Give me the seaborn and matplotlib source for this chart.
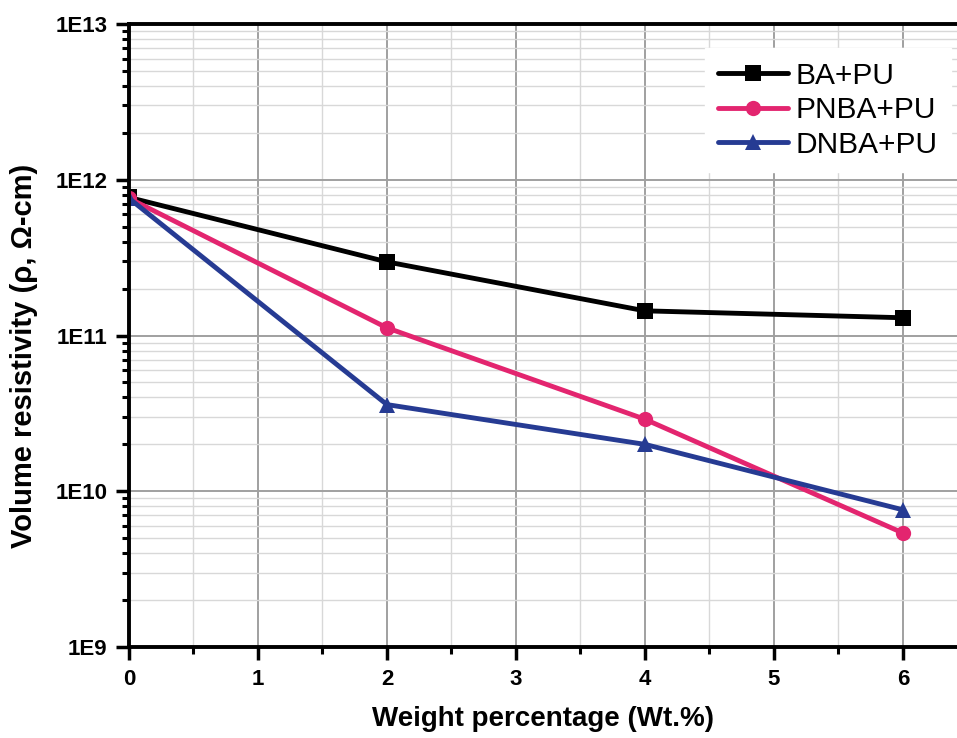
import numpy as np
import pandas as pd
import matplotlib
matplotlib.use("Agg")
import matplotlib.pyplot as plt
import seaborn as sns
from matplotlib.ticker import FixedLocator, LogLocator, NullFormatter, FixedFormatter

weights = [0, 2, 4, 6]
ba_pu = [7.7e11, 2.97e11, 1.44e11, 1.30e11]
pnba_pu = [7.6e11, 1.12e11, 2.9e10, 5.4e9]
dnba_pu = [7.6e11, 3.6e10, 2.0e10, 7.6e9]
series_names = ["BA+PU", "PNBA+PU", "DNBA+PU"]
colors = ["#000000", "#E3256F", "#263B93"]
markers = ["s", "o", "^"]
y_ticks = [1e9, 1e10, 1e11, 1e12, 1e13]
y_labels = ["1E9", "1E10", "1E11", "1E12", "1E13"]
x_ticks = [0, 1, 2, 3, 4, 5, 6]

df = pd.DataFrame({
    "w": weights * 3,
    "rho": ba_pu + pnba_pu + dnba_pu,
    "series": [s for s in series_names for _ in weights],
})

sns.set_style("white")
plt.rcParams['font.family'] = ['Liberation Sans', 'DejaVu Sans']
plt.rcParams['text.color'] = 'black'
plt.rcParams['axes.labelcolor'] = 'black'
plt.rcParams['xtick.color'] = 'black'
plt.rcParams['ytick.color'] = 'black'

fig = plt.figure(figsize=(9.57, 7.38), dpi=100)
ax = fig.add_axes([129/957, 1 - 647/738, 1 - 129/957, (647 - 24)/738])

sns.lineplot(data=df, x="w", y="rho", hue="series", style="series",
             palette=dict(zip(series_names, colors)),
             markers=dict(zip(series_names, markers)),
             dashes=False, markersize=11, linewidth=3.5,
             markeredgewidth=0, ax=ax, legend=True)

ax.set_yscale("log")
ax.set_ylim(1e9, 1e13)
ax.set_xlim(0, 6.42)

ax.yaxis.set_major_locator(FixedLocator(y_ticks))
ax.yaxis.set_major_formatter(FixedFormatter(y_labels))
ax.yaxis.set_minor_locator(LogLocator(base=10, subs=np.arange(2, 10)))
ax.yaxis.set_minor_formatter(NullFormatter())
ax.xaxis.set_major_locator(FixedLocator(x_ticks))
ax.xaxis.set_minor_locator(FixedLocator([0.5, 1.5, 2.5, 3.5, 4.5, 5.5]))

ax.grid(True, which="major", color="#a0a0a0", linewidth=1.4)
ax.grid(True, which="minor", color="#d8d8d8", linewidth=1.0)
ax.set_axisbelow(True)

for side in ["left", "bottom", "top"]:
    ax.spines[side].set_visible(True)
    ax.spines[side].set_color("black")
    ax.spines[side].set_linewidth(2.8)
ax.spines["right"].set_visible(False)

ax.tick_params(axis="both", which="major", direction="out", length=9.5, width=2.5,
               labelsize=16, colors="black", bottom=True, left=True, pad=6)
ax.tick_params(axis="both", which="minor", direction="out", length=5, width=2.2,
               color="black", bottom=True, left=True)
for lab in ax.get_xticklabels() + ax.get_yticklabels():
    lab.set_fontweight("bold")
    lab.set_color("black")

ax.set_xlabel("Weight percentage (Wt.%)", fontsize=20, fontweight="bold",
              labelpad=12, color="black")
ax.set_ylabel("Volume resistivity (\u03c1, \u03a9-cm)", fontsize=21, fontweight="bold",
              color="black")
ax.yaxis.set_label_coords(-0.11, 0.467)

handles, labels = ax.get_legend_handles_labels()
leg = ax.legend(handles, labels, loc="upper right", bbox_to_anchor=(1.011, 0.985),
                fontsize=21.5, frameon=True, framealpha=1, edgecolor="white",
                fancybox=False, handlelength=2.35, labelspacing=0.22, borderpad=0.45,
                handletextpad=0.25)
for t in leg.get_texts():
    t.set_color("black")
for h in leg.legend_handles:
    h.set_linewidth(3.5)
    h.set_markersize(11)

fig.savefig("out.png", dpi=100)
